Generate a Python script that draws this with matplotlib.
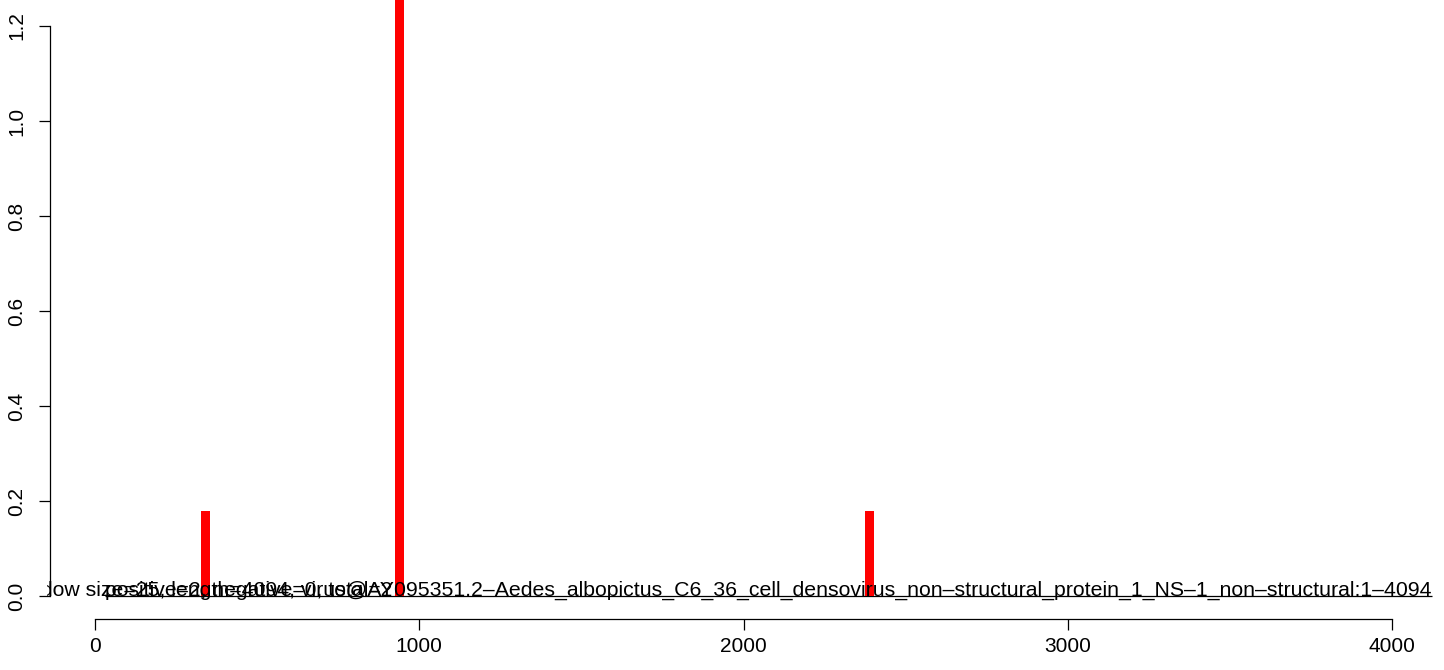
import matplotlib
matplotlib.use("Agg")
import matplotlib.pyplot as plt

# window positions with hits and their heights
positions = [341, 939, 2389]
heights = [0.18, 1.3, 0.18]
bar_width = 28

# zero line covered by the sequence
seq_start, seq_end = 31, 4123

label_left = "positive=2, negative=0, total=2"
label_right = ("window size=25, length=4094, "
               "virus@AY095351.2\u2013Aedes_albopictus_C6_36_cell_densovirus_"
               "non\u2013structural_protein_1_NS\u20131_non\u2013structural:1\u20134094")

x_ticks = [0, 1000, 2000, 3000, 4000]
y_ticks = [0.0, 0.2, 0.4, 0.6, 0.8, 1.0, 1.2]

plt.rcParams['font.family'] = ['Liberation Sans', 'DejaVu Sans']

W, H = 1444, 670
fig = plt.figure(figsize=(W / 100, H / 100), dpi=100)
# plot region in pixels: left 47, right 1444, top 0, bottom 619
ax = fig.add_axes([47 / W, (H - 619) / H, (W - 47) / W, 619 / H])

ax.bar(positions, heights, width=bar_width, color='red', align='center', zorder=2)
ax.hlines(0, seq_start, seq_end, color='black', linewidth=0.9, zorder=1)

ax.text(seq_start, 0, label_left, ha='left', va='baseline', fontsize=15.2,
        clip_on=True, zorder=3)
ax.text(seq_end, 0, label_right, ha='right', va='baseline', fontsize=15.35,
        clip_on=True, zorder=3)

ax.set_xlim(-148, 4160)
ax.set_ylim(-0.0484, 1.2547)

for s in ['top', 'right']:
    ax.spines[s].set_visible(False)
ax.spines['left'].set_position(('data', -139))
ax.spines['left'].set_bounds(0, 1.2)
ax.spines['bottom'].set_bounds(0, 4000)
for s in ['left', 'bottom']:
    ax.spines[s].set_linewidth(0.9)

ax.set_xticks(x_ticks)
ax.set_xticklabels([str(t) for t in x_ticks])
ax.set_yticks(y_ticks)
ax.set_yticklabels([f"{t:.1f}" for t in y_ticks], rotation=90, va='center')
ax.tick_params(axis='both', direction='out', length=8, width=0.9, labelsize=15)
ax.tick_params(axis='y', pad=9)
ax.tick_params(axis='x', pad=5)
ax.patch.set_alpha(0)

fig.savefig("out.png", dpi=100)
